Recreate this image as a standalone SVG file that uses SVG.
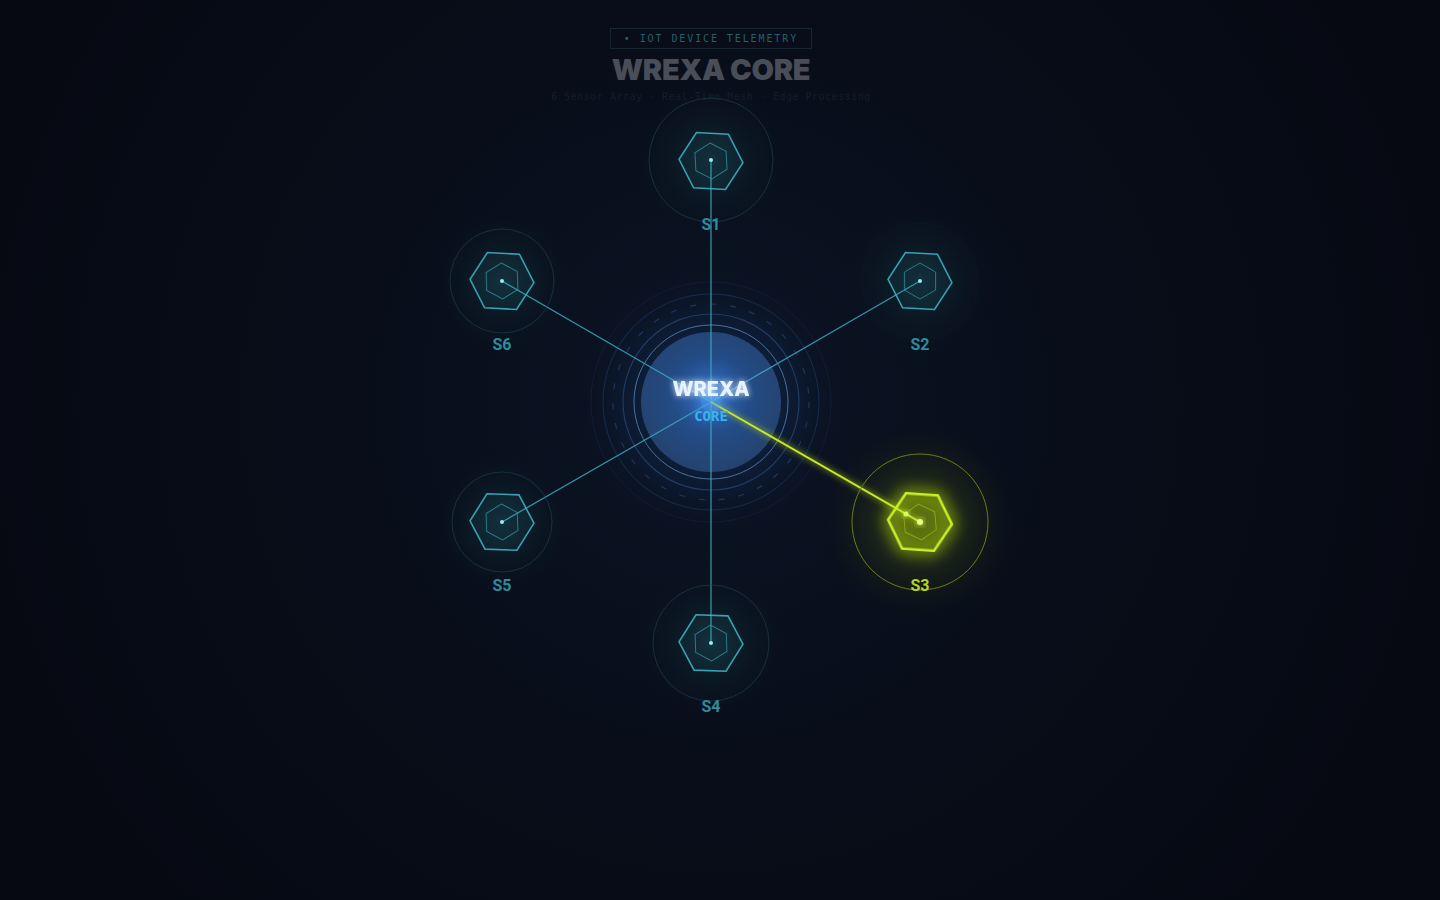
<svg xmlns="http://www.w3.org/2000/svg" width="1440" height="900" viewBox="0 0 1440 900">
<defs>
<radialGradient id="bg" cx="711" cy="402" r="760" gradientUnits="userSpaceOnUse">
<stop offset="0" stop-color="#0b1424"/>
<stop offset="0.5" stop-color="#080d19"/>
<stop offset="1" stop-color="#060912"/>
</radialGradient>
<radialGradient id="coreHalo" cx="0.5" cy="0.5" r="0.5">
<stop offset="0" stop-color="#1d4d9a" stop-opacity="0.5"/>
<stop offset="0.6" stop-color="#12305e" stop-opacity="0.28"/>
<stop offset="1" stop-color="#0b1a33" stop-opacity="0"/>
</radialGradient>
<radialGradient id="coreFill" cx="0.5" cy="0.45" r="0.55">
<stop offset="0" stop-color="#3a80e4"/>
<stop offset="0.5" stop-color="#285698"/>
<stop offset="1" stop-color="#2b4c7c"/>
</radialGradient>
<radialGradient id="nodeHalo" cx="0.5" cy="0.5" r="0.5">
<stop offset="0" stop-color="#12343f" stop-opacity="0.7"/>
<stop offset="1" stop-color="#0b1a24" stop-opacity="0"/>
</radialGradient>
<radialGradient id="hotHalo" cx="0.5" cy="0.5" r="0.5">
<stop offset="0" stop-color="#5a6c10" stop-opacity="0.6"/>
<stop offset="0.55" stop-color="#2c3a12" stop-opacity="0.35"/>
<stop offset="1" stop-color="#141c14" stop-opacity="0"/>
</radialGradient>
<filter id="glow" x="-50%" y="-50%" width="200%" height="200%">
<feGaussianBlur stdDeviation="3" result="b"/>
<feMerge><feMergeNode in="b"/><feMergeNode in="SourceGraphic"/></feMerge>
</filter>
<filter id="glowBig" x="-80%" y="-80%" width="260%" height="260%">
<feGaussianBlur stdDeviation="8" result="b"/>
<feMerge><feMergeNode in="b"/><feMergeNode in="b"/><feMergeNode in="SourceGraphic"/></feMerge>
</filter>
<polygon id="hexOuter" points="32,0 16,27.7 -16,27.7 -32,0 -16,-27.7 16,-27.7"/>
<polygon id="hexInner" points="0,-18 15.6,-9 15.6,9 0,18 -15.6,9 -15.6,-9"/>
</defs>
<style>
.hex{fill:#3fb8c8;fill-opacity:0.06;stroke:#3fb8c8;stroke-width:1.6;stroke-opacity:0.85}
.hexIn{fill:none;stroke:#2f8f9c;stroke-width:1;opacity:0.8}
.ring{fill:none;stroke:#1f4450;stroke-width:1;opacity:0.6}
.ring.faint{opacity:0.1}
.dot{fill:#9fe8f0}
.lbl{font-family:"Roboto","Liberation Sans",sans-serif;font-weight:700;font-size:16px;fill:#2e8c9c;text-anchor:middle}
.link{stroke:#3fb0c4;stroke-width:1.3;opacity:0.8}
</style>
<rect width="1440" height="900" fill="url(#bg)"/>

<g id="header">
<rect x="610.5" y="28.5" width="201" height="20" fill="none" stroke="#172631" stroke-width="1"/>
<text x="711" y="42" font-family="'DejaVu Sans Mono','Liberation Mono',monospace" font-size="10" letter-spacing="1.9" fill="#266068" text-anchor="middle">• IOT DEVICE TELEMETRY</text>
<text x="711" y="80" font-family="Inter,'Liberation Sans',sans-serif" font-weight="900" font-size="29" letter-spacing="-0.3" fill="#484d58" text-anchor="middle">WREXA CORE</text>
<text x="711" y="100" font-family="'DejaVu Sans Mono','Liberation Mono',monospace" font-size="10" letter-spacing="0.5" fill="#161d2a" text-anchor="middle">6 Sensor Array · Real-Time Mesh · Edge Processing</text>
</g>

<!-- halos -->
<circle cx="711" cy="402" r="135" fill="url(#coreHalo)"/>
<circle cx="711" cy="160" r="75" fill="url(#nodeHalo)"/>
<circle cx="920" cy="281" r="75" fill="url(#nodeHalo)"/>
<circle cx="711" cy="643" r="75" fill="url(#nodeHalo)"/>
<circle cx="502" cy="522" r="70" fill="url(#nodeHalo)"/>
<circle cx="502" cy="281" r="70" fill="url(#nodeHalo)"/>
<circle cx="920" cy="522" r="100" fill="url(#hotHalo)"/>

<g id="core">
<circle cx="711" cy="402" r="120" fill="none" stroke="#13264a" stroke-width="1" opacity="0.5"/>
<circle cx="711" cy="402" r="108" fill="none" stroke="#1c3460" stroke-width="1" opacity="0.7"/>
<circle cx="711" cy="402" r="98" fill="none" stroke="#2a4a7a" stroke-width="1.2" stroke-dasharray="6 14" opacity="0.6"/>
<circle cx="711" cy="402" r="88" fill="none" stroke="#2b4a78" stroke-width="1.2" opacity="0.7"/>
<circle cx="711" cy="402" r="77" fill="none" stroke="#5a86b4" stroke-width="1" opacity="0.8"/>
<circle cx="711" cy="402" r="70" fill="url(#coreFill)" opacity="0.8"/>
</g>

<g id="connectors">
<line class="link" x1="711" y1="402" x2="711" y2="160"/>
<line class="link" x1="711" y1="402" x2="920" y2="281"/>
<line class="link" x1="711" y1="402" x2="711" y2="643"/>
<line class="link" x1="711" y1="402" x2="502" y2="522"/>
<line class="link" x1="711" y1="402" x2="502" y2="281"/>
<line x1="711" y1="402" x2="920" y2="522" stroke="#c8e820" stroke-width="2" filter="url(#glow)"/>
</g>

<g id="core-label">
<circle cx="711" cy="402" r="10" fill="#4aa0ff" opacity="0.5" filter="url(#glowBig)"/>
<text x="711" y="396" font-family="Inter,'Liberation Sans',sans-serif" font-weight="800" font-size="20" fill="#e8f4ff" text-anchor="middle" filter="url(#glow)">WREXA</text>
<text x="711" y="421" font-family="'DejaVu Sans Mono','Liberation Mono',monospace" font-weight="700" font-size="14" fill="#3ab2ee" text-anchor="middle">CORE</text>
</g>

<g id="s1">
<circle class="ring" cx="711" cy="160" r="62"/>
<use href="#hexOuter" class="hex" transform="translate(711,161) rotate(3)"/>
<use href="#hexInner" class="hexIn" transform="translate(711,161) rotate(-3)"/>
<circle class="dot" cx="711" cy="160" r="2"/>
<text class="lbl" x="711" y="230">S1</text>
</g>
<g id="s2">
<circle class="ring faint" cx="920" cy="281" r="58"/>
<use href="#hexOuter" class="hex" transform="translate(920,281) rotate(3)"/>
<use href="#hexInner" class="hexIn" transform="translate(920,281) rotate(0)"/>
<circle class="dot" cx="920" cy="281" r="2"/>
<text class="lbl" x="920" y="350">S2</text>
</g>
<g id="s3">
<circle cx="920" cy="522" r="68" fill="none" stroke="#6c7c12" stroke-width="1"/>
<use href="#hexOuter" fill="#c8f020" fill-opacity="0.1" stroke="#c8f020" stroke-width="2.5" transform="translate(920,522) rotate(4)" filter="url(#glowBig)"/>
<use href="#hexInner" fill="none" stroke="#8aa418" stroke-width="1" transform="translate(920,522) rotate(-5)"/>
<circle cx="906" cy="514" r="2.5" fill="#d8ff60" filter="url(#glow)"/>
<circle cx="920" cy="522" r="3" fill="#e8ff80" filter="url(#glow)"/>
<text x="920" y="591" font-family="Roboto,'Liberation Sans',sans-serif" font-weight="700" font-size="16" fill="#b8d41c" text-anchor="middle">S3</text>
</g>
<g id="s4">
<circle class="ring" cx="711" cy="643" r="58"/>
<use href="#hexOuter" class="hex" transform="translate(711,643) rotate(2)"/>
<use href="#hexInner" class="hexIn" transform="translate(711,643) rotate(-2)"/>
<circle class="dot" cx="711" cy="643" r="2"/>
<text class="lbl" x="711" y="712">S4</text>
</g>
<g id="s5">
<circle class="ring" cx="502" cy="522" r="50"/>
<use href="#hexOuter" class="hex" transform="translate(502,522) rotate(2)"/>
<use href="#hexInner" class="hexIn" transform="translate(502,522) rotate(-2)"/>
<circle class="dot" cx="502" cy="522" r="2"/>
<text class="lbl" x="502" y="591">S5</text>
</g>
<g id="s6">
<circle class="ring" cx="502" cy="281" r="52"/>
<use href="#hexOuter" class="hex" transform="translate(502,281) rotate(3)"/>
<use href="#hexInner" class="hexIn" transform="translate(502,281) rotate(-2)"/>
<circle class="dot" cx="502" cy="281" r="2"/>
<text class="lbl" x="502" y="350">S6</text>
</g>
</svg>
